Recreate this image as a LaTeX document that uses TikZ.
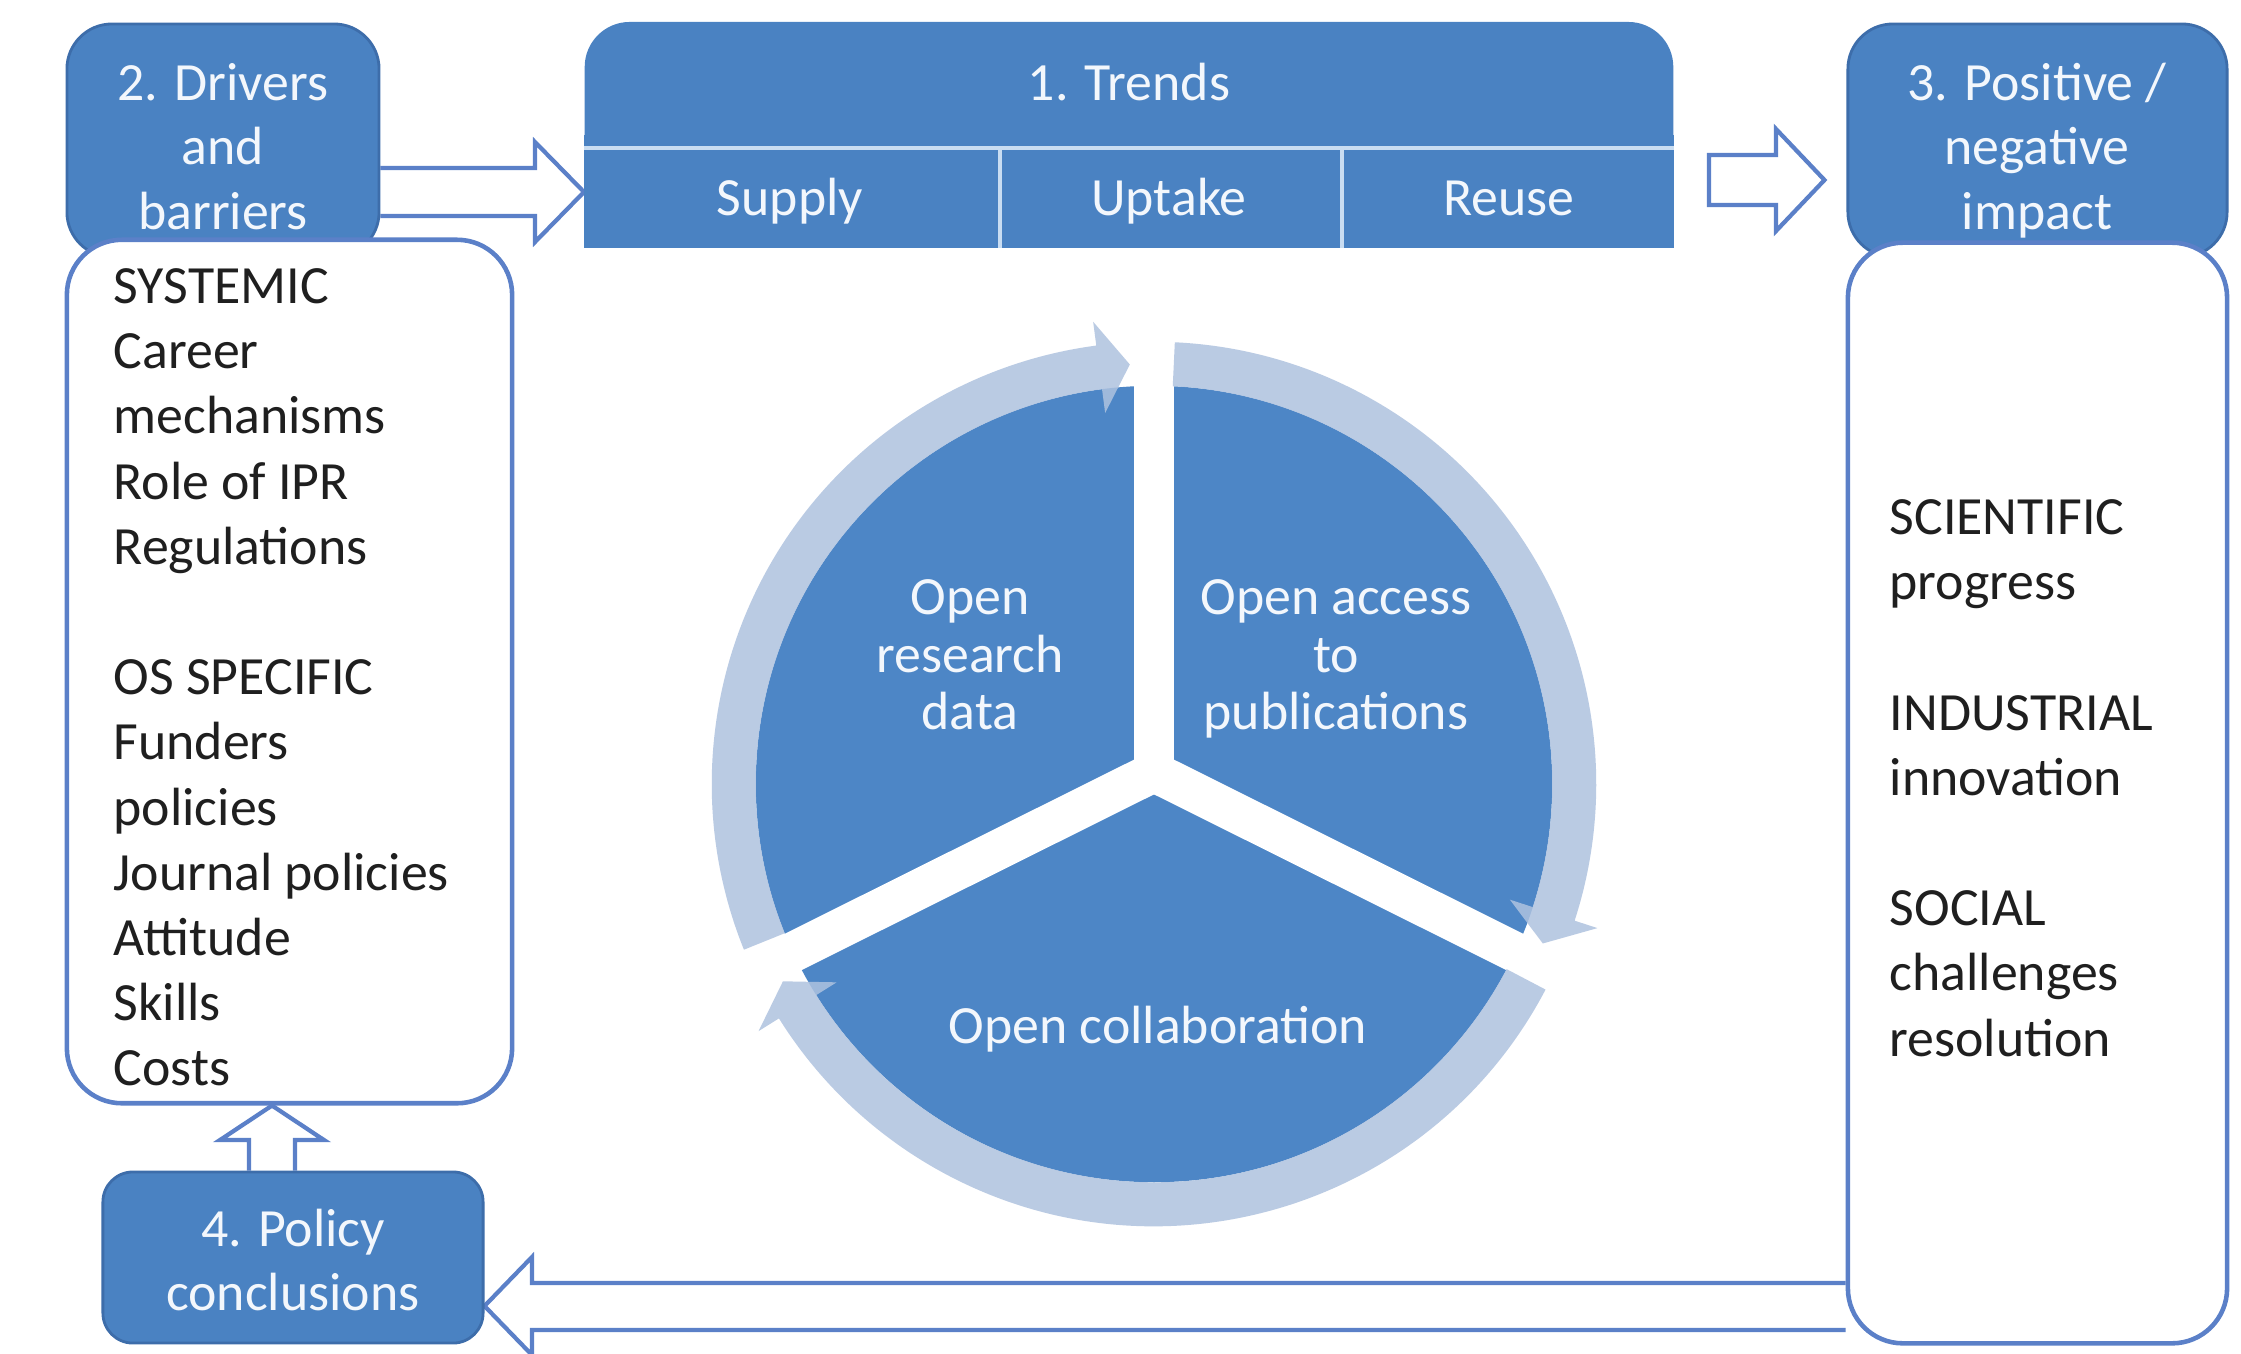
\documentclass[tikz,border=0pt]{standalone}
\usepackage{fontspec}
\setmainfont{Carlito}
\usetikzlibrary{calc}
\pgfdeclarelayer{bg}
\pgfdeclarelayer{arr}
\pgfsetlayers{bg,arr,main}
\definecolor{boxblue}{HTML}{4A82C2}
\definecolor{boxedge}{HTML}{3D6DAA}
\definecolor{lineblue}{HTML}{5B80C8}
\definecolor{ringc}{HTML}{AEC2DF}
\definecolor{pieblue}{HTML}{4D86C6}
\definecolor{divc}{HTML}{C9DDF2}
\definecolor{txtdark}{HTML}{1F1F1F}
\definecolor{txtlight}{HTML}{F3F7FC}
\newcommand\ringarr[3]{\fill[ringarrow] ($(C)+(#1:4.42cm)$) arc[start angle=#1,end angle=#2,radius=4.42cm] -- ($(C)+(#2:4.66cm)$) -- ($(C)+(#3:4.2cm)$) -- ($(C)+(#2:3.74cm)$) -- ($(C)+(#2:3.98cm)$) arc[start angle=#2,end angle=#1,radius=3.98cm] -- cycle;}
\begin{document}
\begin{tikzpicture}[x=0.01cm,y=-0.01cm,
  bluebox/.style={fill=boxblue,draw=boxedge,line width=0.8pt,rounded corners=0.45cm,inner sep=0},
  listbox/.style={fill=white,draw=lineblue,line width=1.3pt,rounded corners=0.55cm,inner sep=0},
  blockarrow/.style={draw=lineblue,fill=white,line width=1.2pt,line join=miter},
  ringarrow/.style={fill=ringc,fill opacity=0.85,draw=none},
  lt/.style={anchor=base,text=txtlight,inner sep=0,font=\fontsize{15.3}{18.5}\selectfont},
  dt/.style={anchor=base west,text=txtdark,inner sep=0,font=\fontsize{15.3}{18.5}\selectfont},
  band/.style={draw=white,line width=0.4cm}
]
\useasboundingbox (0,0) rectangle (2241,1353);
\begin{pgfonlayer}{bg}
\fill[white] (0,0) rectangle (2241,1353);
% cycle
\coordinate (C) at (1154,784);
\coordinate (J) at (1154,772);
\fill[pieblue] (C) circle[radius=3.98cm];
\draw[band] (J) -- ($(J)+(90:4.9cm)$);
\draw[band] (J) -- ($(J)+(206.5:4.9cm)$);
\draw[band] (J) -- ($(J)+(333.5:4.9cm)$);
\ringarr{202}{97.5}{93.3}
\ringarr{87.3}{-18}{-22.3}
\ringarr{-27.7}{-148}{-152}
\end{pgfonlayer}

% pie labels
\node[lt] (or1) at (970,614) {Open};
\node[lt] (or2) at (970,672) {research};
\node[lt] (or3) at (970,729) {data};
\node[lt] (oa1) at (1336,614) {Open access};
\node[lt] (oa2) at (1336,672) {to};
\node[lt] (oa3) at (1336,729) {publications};
\node[lt] (oc1) at (1158,1043) {Open collaboration};

% boxes
\node[bluebox,minimum width=3.12cm,minimum height=2.33cm] (drv) at (223,140.5) {};
\node[listbox,minimum width=4.45cm,minimum height=8.63cm] (drvlist) at (289.5,671.5) {};
\node[bluebox,minimum width=3.79cm,minimum height=2.33cm] (imp) at (2037.5,140.5) {};
\node[listbox,minimum width=3.79cm,minimum height=11.0cm] (implist) at (2037.5,793) {};
\node[bluebox,rounded corners=0.3cm,minimum width=3.8cm,minimum height=1.71cm] (pol) at (293,1257.5) {};

% trends
\node[fill=boxblue,rounded corners=0.45cm,minimum width=10.88cm,minimum height=2.25cm,inner sep=0] (trends) at (1129,134.5) {};
\fill[boxblue] (trends.west) rectangle (trends.south east);
\draw[divc,line width=1.2pt] (trends.west |- 0,148) -- (trends.east |- 0,148);
\draw[divc,line width=1pt] (1000,148) -- (1000,0 |- trends.south);
\draw[divc,line width=1pt] (1342,148) -- (1342,0 |- trends.south);
\node[lt] (tt) at (1129,100) {1. Trends};
\node[lt] (ts) at (790,215) {Supply};
\node[lt] (tu) at (1169,215) {Uptake};
\node[lt] (tr) at (1509,215) {Reuse};

% titles
\node[lt] (d1) at (223,100) {2. Drivers};
\node[lt] (d2) at (223,164) {and};
\node[lt] (d3) at (223,229) {barriers};
\node[lt] (p1) at (2037,100) {3. Positive /};
\node[lt] (p2) at (2037,164) {negative};
\node[lt] (p3) at (2037,229) {impact};
\node[lt] (c1) at (293,1246) {4. Policy};
\node[lt] (c2) at (293,1310) {conclusions};

% lists
\foreach \y/\t [count=\i] in {303/SYSTEMIC,368/Career,433/mechanisms,499/Role of IPR,564/Regulations,694/OS SPECIFIC,759/Funders,825/policies,890/Journal policies,955/Attitude,1020/Skills,1085/Costs}
  \node[dt] (dl\i) at (113,\y) {\t};
\foreach \y/\t [count=\i] in {534/SCIENTIFIC,599/progress,730/INDUSTRIAL,795/innovation,925/SOCIAL,990/challenges,1056/resolution}
  \node[dt] (il\i) at (1889,\y) {\t};

% block arrows
\begin{pgfonlayer}{arr}
\draw[blockarrow] (drv.east |- 0,168) -- (535,168) -- (535,142) -- (trends.west |- 0,192) -- (535,242) -- (535,216) -- (drv.east |- 0,216);
\draw[blockarrow] ($(trends.east |- 0,155)+(35,0)$) -- (1776,155) -- (1776,129) -- ($(imp.west |- 0,180)+(-22,0)$) -- (1776,231) -- (1776,205) -- ($(trends.east |- 0,205)+(35,0)$) -- cycle;
\draw[blockarrow] (implist.west |- 0,1283) -- (532,1283) -- (532,1257) -- (pol.east |- 0,1306) -- (532,1355) -- (532,1330) -- (implist.west |- 0,1330);
\draw[blockarrow] (249,0 |- pol.north) -- (249,1140) -- (220,1140) -- (272,0 |- drvlist.south) -- (324,1140) -- (295,1140) -- (295,0 |- pol.north);
\end{pgfonlayer}
\end{tikzpicture}
\end{document}
